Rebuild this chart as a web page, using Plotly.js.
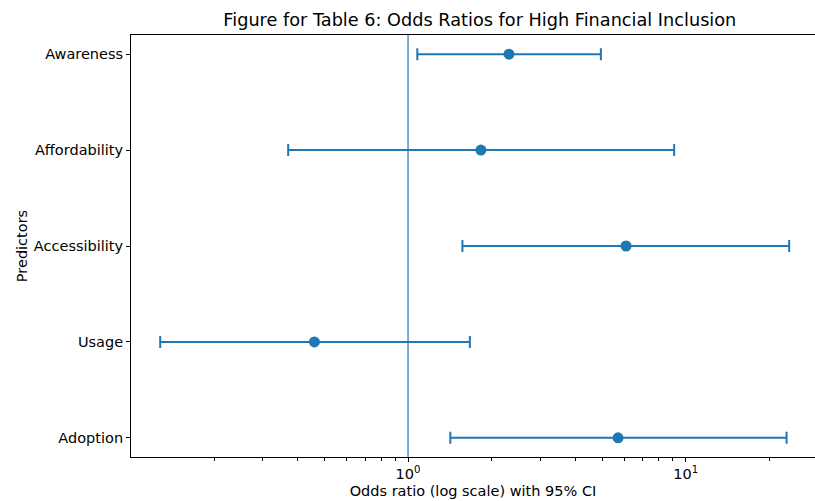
<!DOCTYPE html>
<html>
<head>
<meta charset="utf-8">
<script src="https://cdn.plot.ly/plotly-3.0.1.min.js"></script>
<style>html,body{margin:0;padding:0;background:#fff;}#chart{width:815px;height:501px;}</style>
</head>
<body>
<div id="chart"></div>
<script>
const predictors = ["Awareness", "Affordability", "Accessibility", "Usage", "Adoption"];
const oddsRatio = [2.31, 1.83, 6.10, 0.46, 5.71];
const ciLower = [1.08, 0.370, 1.57, 0.128, 1.42];
const ciUpper = [4.95, 9.09, 23.6, 1.67, 23.1];
const xTickVals = [1, 10];
const xTickText = ["10<sup>0</sup>", "10<sup>1</sup>"];
const minorVals = [0.2,0.3,0.4,0.5,0.6,0.7,0.8,0.9,2,3,4,5,6,7,8,9,20];

const color = "#1f77b4";
const trace = {
  type: "scatter",
  mode: "markers",
  x: oddsRatio,
  y: predictors,
  marker: {color: color, size: 11},
  error_x: {
    type: "data",
    symmetric: false,
    array: oddsRatio.map((v, i) => ciUpper[i] - v),
    arrayminus: oddsRatio.map((v, i) => v - ciLower[i]),
    color: color,
    thickness: 2,
    width: 6
  },
  hoverinfo: "x+y"
};

const font = "DejaVu Sans, sans-serif";
const fs = 14.5;
const layout = {
  width: 815, height: 501,
  margin: {l: 131, r: 0, t: 35, b: 44},
  paper_bgcolor: "#fff", plot_bgcolor: "#fff",
  showlegend: false,
  font: {family: font, size: fs, color: "#000"},
  title: {text: "Figure for Table 6: Odds Ratios for High Financial Inclusion",
          font: {family: font, size: 17.7, color: "#000"},
          xref: "paper", x: 0.510, xanchor: "center",
          yref: "container", y: 0.96, yanchor: "middle"},
  xaxis: {
    type: "log",
    range: [-0.998, 1.466],
    tickmode: "array", tickvals: xTickVals, ticktext: xTickText,
    ticks: "outside", ticklen: 4, tickcolor: "#000", tickwidth: 1,
    minor: {tickmode: "array", tickvals: minorVals, ticks: "outside", ticklen: 2.5, tickcolor: "#000", showgrid: false},
    showgrid: false, zeroline: false,
    showline: true, linecolor: "#000", linewidth: 1, mirror: true,
    tickfont: {family: font, size: fs, color: "#000"},
    title: {text: "Odds ratio (log scale) with 95% CI", font: {family: font, size: fs, color: "#000"}, standoff: 4}
  },
  yaxis: {
    type: "category",
    categoryorder: "array", categoryarray: predictors,
    range: [4.2, -0.2],
    ticks: "outside", ticklen: 4, tickcolor: "#000", tickwidth: 1,
    showgrid: false, zeroline: false,
    showline: true, linecolor: "#000", linewidth: 1, mirror: false,
    tickfont: {family: font, size: fs, color: "#000"},
    title: {text: "Predictors", font: {family: font, size: fs, color: "#000"}, standoff: 2}
  },
  shapes: [{
    type: "line", xref: "x", yref: "paper",
    x0: 1, x1: 1, y0: 0, y1: 1,
    line: {color: color, width: 1.2}
  }]
};

Plotly.newPlot("chart", [trace], layout, {displayModeBar: false, staticPlot: true});
</script>
</body>
</html>
